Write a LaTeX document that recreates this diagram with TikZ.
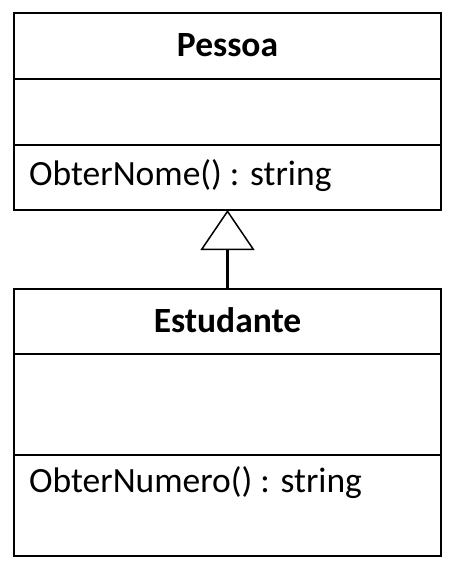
\documentclass[tikz,border=0pt]{standalone}
\usepackage{fontspec}
\setmainfont{Carlito}
\usetikzlibrary{positioning,arrows.meta}

\tikzset{
  classbox/.style={draw, line width=1.5pt, minimum width=427pt, inner sep=0pt, outer sep=0pt},
  classname/.style={classbox, font=\fontsize{35.5}{42}\selectfont\bfseries, text depth=2pt},
  optext/.style={inner xsep=15pt, inner ysep=0pt, font=\fontsize{35.5}{42}\selectfont},
  inherits/.style={line width=2.5pt, -{Triangle[open, length=40pt, width=54pt, line width=1.5pt]}}
}

\begin{document}
\begin{tikzpicture}[x=1pt, y=-1pt]
  \useasboundingbox (0,0) rectangle (461,572);
  % class Pessoa
  \node[classname, minimum height=66pt, anchor=north west] (pessoa) at (14,13) {Pessoa};
  \node[classbox, minimum height=66pt, below=0pt of pessoa] (pessoaattr) {};
  \node[classbox, minimum height=65pt, below=0pt of pessoaattr] (pessoaops) {};
  \node[optext, anchor=west] (pessoaop) at ([yshift=2pt]pessoaops.west) {ObterNome() : string};
  % class Estudante
  \node[classname, minimum height=65pt, anchor=north west] (estudante) at (14,289) {Estudante};
  \node[classbox, minimum height=101pt, below=0pt of estudante] (estudanteattr) {};
  \node[classbox, minimum height=101pt, below=0pt of estudanteattr] (estudanteops) {};
  \node[optext, anchor=west] (estudanteop) at ([yshift=-28pt]estudanteops.north west) {ObterNumero() : string};
  % generalisation
  \draw[inherits] (estudante.north) -- (pessoaops.south);
\end{tikzpicture}
\end{document}
